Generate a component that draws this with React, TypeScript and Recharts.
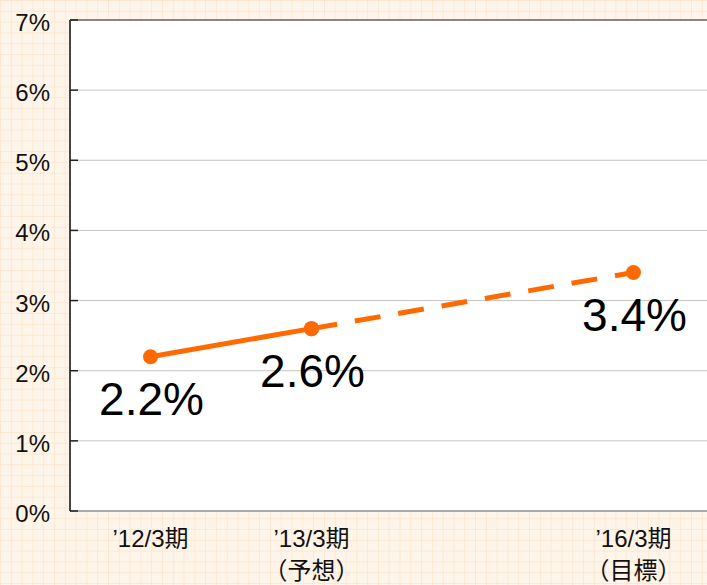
import {
  CartesianGrid,
  Line,
  LineChart,
  ReferenceLine,
  XAxis,
  YAxis,
} from "recharts";

const categories = ["’12/3期", "’13/3期", "", "’16/3期"];
const subLabels = ["", "（予想）", "", "（目標）"];
const actual = [2.2, 2.6, null, null];
const plan = [null, 2.6, null, 3.4];
const yTicks = [0, 1, 2, 3, 4, 5, 6, 7];
const slotEdges = [1, 2, 3];

const data = categories.map((c, i) => ({
  cat: c,
  sub: subLabels[i],
  actual: actual[i],
  plan: plan[i],
}));

const ORANGE = "#ff6a00";
const FONT = "'Liberation Sans', Arial, 'Noto Sans CJK JP', sans-serif";

const CategoryTick = (props: any) => {
  const { x, y, index } = props;
  return (
    <text x={x} y={y} textAnchor="middle" fontSize={24} fill="#111" fontFamily={FONT}>
      <tspan x={x} dy={36}>{categories[index]}</tspan>
      {subLabels[index] && (
        <tspan x={x} dy={32}>{subLabels[index]}</tspan>
      )}
    </text>
  );
};

const YTick = (props: any) => {
  const { x, y, payload } = props;
  return (
    <text x={x} y={y} dy={11} textAnchor="end" fontSize={24} fill="#111" fontFamily={FONT}>
      {`${payload.value}%`}
    </text>
  );
};

const makeLabel = (skip: number[]) => (props: any) => {
  const { x, y, value, index } = props;
  if (value == null || skip.includes(index)) return null;
  return (
    <text x={x + 1} y={y + 58} textAnchor="middle" fontSize={46} fill="#000" fontFamily={FONT}>
      {`${value}%`}
    </text>
  );
};

export default function App() {
  return (
    <div
      style={{
        position: "absolute",
        top: 0,
        left: 0,
        width: 707,
        height: 585,
        overflow: "hidden",
        backgroundColor: "#fef5ea",
        backgroundImage:
          "linear-gradient(#fce8d2 1px, transparent 1px), linear-gradient(90deg, #fce8d2 1px, transparent 1px)",
        backgroundSize: "10.8px 10.8px",
        fontFamily: FONT,
      }}
    >
      <LineChart
        width={714}
        height={585}
        data={data}
        margin={{ top: 20, right: 0, left: 0, bottom: 0 }}
      >
        <CartesianGrid vertical={false} stroke="#c4c4c4" fill="#fff" />
        <XAxis
          xAxisId="edges"
          type="number"
          domain={[0, 4]}
          ticks={slotEdges}
          height={0}
          axisLine={false}
          tick={false}
          tickSize={-8}
          tickLine={{ stroke: "#888", strokeWidth: 1.5 }}
        />
        <XAxis
          dataKey="cat"
          scale="band"
          height={74}
          axisLine={{ stroke: "#999", strokeWidth: 1.5 }}
          tickLine={false}
          tickSize={0}
          tickMargin={0}
          interval={0}
          tick={<CategoryTick />}
        />
        <YAxis
          domain={[0, 7]}
          ticks={yTicks}
          width={70}
          tick={<YTick />}
          tickSize={-8}
          tickMargin={28}
          axisLine={{ stroke: "#444", strokeWidth: 2 }}
          tickLine={{ stroke: "#222", strokeWidth: 1.5 }}
        />
        <ReferenceLine y={7} stroke="#888" strokeWidth={2} />
        <Line
          dataKey="plan"
          stroke={ORANGE}
          strokeWidth={5}
          strokeDasharray="26 18"
          connectNulls
          dot={{ r: 7.5, fill: ORANGE, stroke: "none" }}
          label={makeLabel([1])}
          isAnimationActive={false}
        />
        <Line
          dataKey="actual"
          stroke={ORANGE}
          strokeWidth={5}
          dot={{ r: 7.5, fill: ORANGE, stroke: "none" }}
          label={makeLabel([])}
          isAnimationActive={false}
        />
      </LineChart>
    </div>
  );
}
